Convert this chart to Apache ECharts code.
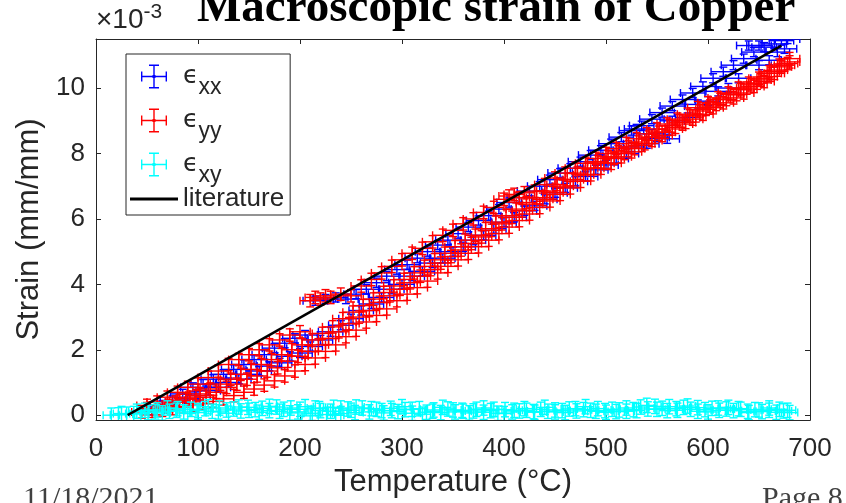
<!DOCTYPE html>
<html><head><meta charset="utf-8">
<script src="https://cdn.jsdelivr.net/npm/echarts@6/dist/echarts.min.js"></script>
<style>html,body{margin:0;padding:0;background:#fff}#c{width:846px;height:503px}</style>
</head><body><div id="c"></div>
<script>
// ---- data (strain in units of 1e-3 mm/mm, temperature in °C) ----
const xTicks = [0, 100, 200, 300, 400, 500, 600, 700];
const yTicks = [0, 2, 4, 6, 8, 10];
const titleText = 'Macroscopic strain of Copper';
const footerLeft = '11/18/2021';
const footerRight = 'Page 8';

// eps_xx (blue) [T, strain]
const pointsXX = [
 [55,0.15],[65,0.30],[75,0.45],[85,0.65],[95,0.85],[105,0.95],[115,1.10],[125,1.25],[135,1.40],[145,1.55],
 [155,1.70],[165,1.85],[175,2.05],[185,2.20],[195,2.35],[205,2.45],[215,3.50],[225,3.55],[235,3.60],[245,3.55],
 [255,3.70],[265,3.85],[275,4.05],[285,4.25],[295,4.45],[305,4.60],[315,4.80],[325,5.00],[335,5.20],[345,5.35],
 [355,5.55],[365,5.75],[375,5.95],[385,6.10],[395,6.30],[405,6.50],[415,6.65],[425,6.85],[435,7.00],[445,7.20],
 [455,7.40],[465,7.55],[475,7.75],[485,7.95],[495,8.10],[505,8.30],[515,8.50],[525,8.70],[535,8.85],[545,9.05],
 [555,9.25],[565,9.45],[575,9.65],[585,9.85],[595,10.05],[605,10.30],[615,10.50],[625,10.70],[635,10.90],[645,11.10],
 [655,11.25],[665,11.35],[672,11.45],[678,11.50],
 [80,0.40],[100,0.60],[120,0.85],[140,1.10],[160,1.35],[180,1.60],[200,1.90],[220,2.30],[240,2.75],[260,3.20],
 [280,3.60],[300,4.00],[320,4.40],[340,4.80],[360,5.15],[380,5.50],[400,5.90],[420,6.25],[440,6.60],[460,6.95],
 [480,7.30],[500,7.65],[520,8.00],[530,8.75],[540,8.30],[550,8.50],[560,8.45],[580,9.10],[600,9.60],[620,10.00],
 [640,11.30],[650,11.30],[660,10.85],[675,11.20],
 [90,0.50],[110,0.75],[130,1.00],[150,1.25],[170,1.50],[190,1.80],[210,2.10],[230,2.55],[250,2.95],[270,3.40],
 [290,3.85],[310,4.25],[330,4.65],[350,5.00],[370,5.35],[390,5.70],[410,6.05],[430,6.40],[450,6.80],[470,7.15],
 [490,7.50],[510,7.85],[525,8.20],[545,8.60],[565,9.00],[590,9.50],[610,9.90],[630,10.30],[650,10.70],[668,11.10]
];
// eps_yy (red)
const pointsYY = [
 [45,0.10],[55,0.12],[65,0.15],[75,0.20],[85,0.25],[95,0.30],[105,0.35],[115,0.42],[125,0.50],[135,0.60],
 [145,0.70],[155,0.80],[165,0.92],[175,1.05],[185,1.20],[195,1.35],[205,1.55],[215,1.75],[225,1.95],[235,2.15],
 [245,2.40],[255,2.60],[265,2.85],[275,3.05],[285,3.25],[295,3.50],[305,3.70],[315,3.90],[325,4.10],[335,4.35],
 [345,4.55],[355,4.75],[365,4.95],[375,5.15],[385,5.35],[395,5.55],[405,5.75],[415,5.95],[425,6.15],[435,6.35],
 [445,6.55],[455,6.75],[465,6.95],[475,7.15],[485,7.35],[495,7.55],[505,7.70],[515,7.90],[525,8.05],[535,8.25],
 [545,8.40],[555,8.55],[565,8.75],[575,8.90],[585,9.05],[595,9.20],[605,9.40],[615,9.55],[625,9.70],[635,9.85],
 [645,10.05],[655,10.20],[665,10.45],[675,10.70],
 [50,0.30],[60,0.40],[70,0.55],[80,0.70],[90,0.85],[100,0.95],[110,1.15],[120,1.35],[130,1.55],[140,1.70],
 [150,1.85],[160,2.00],[170,2.15],[180,2.30],[190,2.45],[200,2.55],[210,3.50],[215,3.60],[220,3.55],[225,3.65],
 [230,3.60],[240,3.70],[250,3.65],[260,3.95],[270,4.15],[280,4.35],[290,4.55],[300,4.75],[310,4.95],[320,5.10],
 [330,5.30],[340,5.50],[350,5.65],[360,5.85],[370,6.00],[380,6.20],[390,6.35],[400,6.60],[405,6.70],[410,6.75],
 [415,6.65],[420,6.80],[430,6.85],[440,7.05],[450,7.25],[460,7.40],[470,7.55],[480,7.70],[490,7.85],[500,8.00],
 [510,8.15],[520,8.30],[530,8.45],[540,8.60],[550,8.75],[560,8.90],[570,9.05],[580,9.20],[590,9.40],[600,9.55],
 [610,9.70],[620,9.85],[630,10.00],[640,10.15],[650,10.30],[660,10.50],[670,10.70],[680,10.90],
 [60,0.20],[72,0.30],[82,0.45],[92,0.55],[102,0.65],[112,0.80],[122,0.95],[132,1.10],[142,1.25],[152,1.40],
 [162,1.55],[172,1.70],[182,1.85],[192,2.00],[202,2.15],[212,2.30],[222,2.50],[232,2.70],[242,2.95],[252,3.15],
 [262,3.35],[272,3.55],[282,3.75],[292,3.95],[302,4.15],[312,4.35],[322,4.55],[332,4.75],[342,4.95],[352,5.15],
 [362,5.35],[372,5.50],[382,5.70],[392,5.90],[402,6.10],[412,6.30],[422,6.50],[432,6.65],[442,6.85],[452,7.05],
 [462,7.20],[472,7.40],[482,7.55],[492,7.75],[502,7.90],[512,8.05],[522,8.20],[532,8.35],[542,8.50],[552,8.65],
 [562,8.85],[572,9.00],[582,9.15],[592,9.30],[602,9.45],[612,9.65],[622,9.80],[632,9.95],[642,10.10],[652,10.25],
 [662,10.45],[672,10.65],[680,10.80],
 [50,0.20],[68,0.25],[78,0.40],[88,0.50],[98,0.60],[108,0.55],[118,0.70],[128,0.85],[138,0.95],[148,1.10],
 [158,1.20],[168,1.35],[178,1.45],[188,1.65],[198,1.80],[208,1.95],[218,2.15],[228,2.35],[238,2.55],[248,2.80],
 [258,3.00],[268,3.20],[278,3.45],[288,3.65],[298,3.85],[308,4.05],[318,4.25],[328,4.45],[338,4.65],[348,4.85],
 [358,5.05],[368,5.25],[378,5.45],[388,5.65],[398,5.85],[408,6.05],[418,6.25],[428,6.45],[438,6.60],[448,6.80],
 [458,7.00],[468,7.20],[478,7.35],[488,7.55],[498,7.70],[508,7.85],[518,8.00],[528,8.15],[538,8.30],[548,8.50],
 [558,8.65],[568,8.80],[578,8.95],[588,9.15],[598,9.35],[608,9.50],[618,9.65],[628,9.80],[638,10.00],[648,10.15],
 [658,10.35],[668,10.55],[678,10.75]
];
// eps_xy (cyan)
const pointsXY = [
 [15,0.00],[22,0.01],[30,0.03],[37,0.05],[44,0.04],[51,0.08],[58,0.10],[65,0.07],[72,0.12],[79,0.15],
 [86,0.10],[93,0.18],[100,0.14],[107,0.20],[114,0.12],[121,0.22],[128,0.16],[135,0.19],[142,0.13],[149,0.24],
 [156,0.17],[163,0.21],[170,0.14],[177,0.25],[184,0.18],[191,0.22],[198,0.10],[205,0.26],[212,0.06],[219,0.20],
 [226,0.02],[233,0.24],[240,0.05],[247,0.19],[254,0.08],[261,0.22],[268,0.10],[275,0.18],[282,0.07],[289,0.21],
 [296,0.11],[303,0.17],[310,0.06],[317,0.20],[324,0.09],[331,0.16],[338,0.08],[345,0.19],[352,0.10],[359,0.15],
 [366,0.07],[373,0.18],[380,0.09],[387,0.14],[394,0.06],[401,0.17],[408,0.10],[415,0.13],[422,0.15],[429,0.11],
 [436,0.18],[443,0.12],[450,0.16],[457,0.14],[464,0.19],[471,0.13],[478,0.17],[485,0.15],[492,0.20],[499,0.14],
 [506,0.18],[513,0.16],[520,0.22],[527,0.17],[534,0.25],[541,0.19],[548,0.27],[555,0.21],[562,0.26],[569,0.20],
 [576,0.24],[583,0.18],[590,0.23],[597,0.17],[604,0.21],[611,0.15],[618,0.19],[625,0.14],[632,0.18],[639,0.12],
 [646,0.17],[653,0.11],[660,0.15],[667,0.09],[674,0.13],[680,0.08],
 [40,0.12],[60,0.16],[80,0.20],[100,0.08],[120,0.10],[140,0.25],[160,0.09],[180,0.12],[200,0.18],[210,-0.02],
 [220,0.14],[230,0.12],[240,0.22],[250,0.15],[270,0.20],[290,0.14],[310,0.18],[330,0.12],[350,0.16],[370,0.13],
 [390,0.18],[410,0.15],[430,0.09],[450,0.10],[470,0.20],[490,0.12],[510,0.11],[530,0.14],[550,0.18],[570,0.15],
 [590,0.12],[610,0.22],[630,0.20],[650,0.16],[670,0.18],
 [25,0.05],[48,0.15],[70,0.22],[90,0.05],[110,0.26],[130,0.06],[150,0.15],[170,0.27],[190,0.07],[215,0.22],
 [235,0.00],[255,0.25],[280,0.14],[300,0.26],[320,0.03],[340,0.24],[360,0.12],[380,0.22],[400,0.05],[420,0.20],
 [440,0.24],[460,0.08],[480,0.26],[500,0.09],[520,0.12],[540,0.30],[560,0.14],[580,0.28],[600,0.10],[620,0.24],
 [640,0.08],[660,0.22],[678,0.15]
];
// literature line
const literature = [[31, 0], [672, 11.3]];

// error-bar half widths [temperature, strain]
const errXX = [12, 0.14];
const errYY = [10, 0.19];
const errXY = [8, 0.22];

// ---- chart ----
const TXT = '#262626';
const FONT = '"Liberation Sans", Arial, Helvetica, sans-serif';
const CAP = 4;

function errorBar(err) {
  return function (params, api) {
    const x = api.value(0), y = api.value(1);
    const c = api.coord([x, y]);
    const l = api.coord([x - err[0], y])[0];
    const r = api.coord([x + err[0], y])[0];
    const t = api.coord([x, y + err[1]])[1];
    const b = api.coord([x, y - err[1]])[1];
    const st = { stroke: api.visual('color'), lineWidth: 1.4, fill: null };
    const ln = (x1, y1, x2, y2) => ({ type: 'line', shape: { x1, y1, x2, y2 }, style: st });
    return {
      type: 'group',
      children: [
        ln(l, c[1], r, c[1]),
        ln(c[0], t, c[0], b),
        ln(l, c[1] - CAP, l, c[1] + CAP),
        ln(r, c[1] - CAP, r, c[1] + CAP),
        ln(c[0] - CAP, t, c[0] + CAP, t),
        ln(c[0] - CAP, b, c[0] + CAP, b)
      ]
    };
  };
}

const corners = 'M0 0h0.01v0.01h-0.01z M47.99 25.99h0.01v0.01h-0.01z ';
const ebIcon = 'path://' + corners +
  'M11 12.3h26v1.4h-26z M23.3 1h1.4v24h-1.4z M11 8h1.4v10h-1.4z M35.6 8h1.4v10h-1.4z ' +
  'M19 1h10v1.4h-10z M19 23.6h10v1.4h-10z M22.5 11.5h3v3h-3z';
const lineIcon = 'path://' + corners + 'M0 11.6h48v2.8h-48z';

const chart = echarts.init(document.getElementById('c'), null, { renderer: 'canvas' });

function errSeries(name, pts, err, color) {
  return {
    name, type: 'custom', clip: true,
    xAxisIndex: 0, yAxisIndex: 0,
    itemStyle: { color },
    encode: { x: 0, y: 1 },
    data: pts,
    renderItem: errorBar(err),
    animation: false
  };
}

const axisCommon = {
  axisLine: { show: true, onZero: false, lineStyle: { color: TXT, width: 1 } },
  splitLine: { show: false }
};

chart.setOption({
  animation: false,
  backgroundColor: '#fff',
  grid: { left: 96, right: 36, top: 39, bottom: 81, containLabel: false },
  xAxis: [
    Object.assign({
      type: 'value', min: 0, max: 700, interval: 100, position: 'bottom',
      axisTick: { inside: true, length: 5, lineStyle: { color: TXT } },
      axisLabel: { fontSize: 26, color: TXT, fontFamily: FONT, margin: 16, customValues: xTicks },
      name: 'Temperature (°C)', nameLocation: 'middle', nameGap: 46,
      nameTextStyle: { fontSize: 31, color: TXT, fontFamily: FONT }
    }, axisCommon),
    Object.assign({
      type: 'value', min: 0, max: 700, interval: 100, position: 'top',
      axisTick: { inside: true, length: 5, lineStyle: { color: TXT } },
      axisLabel: { show: false }
    }, axisCommon)
  ],
  yAxis: [
    Object.assign({
      type: 'value', min: -0.15, max: 11.5, position: 'left',
      axisTick: { inside: true, length: 5, lineStyle: { color: TXT }, customValues: yTicks },
      axisLabel: { fontSize: 26, color: TXT, fontFamily: FONT, margin: 11, customValues: yTicks },
      name: 'Strain (mm/mm)', nameLocation: 'middle', nameGap: 50, nameRotate: 90,
      nameTextStyle: { fontSize: 31, color: TXT, fontFamily: FONT }
    }, axisCommon),
    Object.assign({
      type: 'value', min: -0.15, max: 11.5, position: 'right',
      axisTick: { inside: true, length: 5, lineStyle: { color: TXT }, customValues: yTicks },
      axisLabel: { show: false, customValues: yTicks }
    }, axisCommon)
  ],
  legend: {
    orient: 'vertical', left: 126, top: 54,
    itemWidth: 48, itemHeight: 26, itemGap: -1, itemTextGap: 5,
    padding: [0, 6, 3, 4],
    backgroundColor: '#fff', borderColor: TXT, borderWidth: 1,
    selectedMode: false,
    data: [
      { name: 'ϵxx', icon: ebIcon, itemStyle: { color: '#0000ff' } },
      { name: 'ϵyy', icon: ebIcon, itemStyle: { color: '#ff0000' } },
      { name: 'ϵxy', icon: ebIcon, itemStyle: { color: '#00ffff' } },
      { name: 'literature', icon: lineIcon, itemStyle: { color: '#000000' } }
    ],
    formatter: function (name) {
      if (name === 'literature') return name;
      return '{e|ϵ}{s|' + name.slice(1) + '}';
    },
    textStyle: {
      fontSize: 26, color: TXT, fontFamily: FONT,
      rich: {
        e: { fontSize: 25, lineHeight: 26, verticalAlign: 'middle', color: TXT, fontFamily: '"DejaVu Sans", sans-serif' },
        s: { fontSize: 23, lineHeight: 22, padding: [22, 0, 0, 0], verticalAlign: 'middle', color: TXT, fontFamily: FONT }
      }
    }
  },
  graphic: [
    { type: 'text', left: 197, top: -15, z: 100,
      style: { text: titleText, font: 'bold 47px "Liberation Serif", "Times New Roman", serif', fill: '#000' } },
    { type: 'text', left: 96, top: 2, z: 100,
      style: {
        text: '{a|×10}{b|-3}', fill: TXT,
        rich: {
          a: { fontSize: 28, lineHeight: 32, verticalAlign: 'bottom', fontFamily: FONT, fill: TXT },
          b: { fontSize: 21, lineHeight: 30, verticalAlign: 'top', padding: [0, 0, 10, 0], fontFamily: FONT, fill: TXT }
        }
      } },
    { type: 'text', left: 23, top: 484, z: 100,
      style: { text: footerLeft, font: '30px "Liberation Serif", "Times New Roman", serif', fill: '#404040' } },
    { type: 'text', left: 762, top: 484, z: 100,
      style: { text: footerRight, font: '30px "Liberation Serif", "Times New Roman", serif', fill: '#404040' } }
  ],
  series: [
    errSeries('ϵxx', pointsXX, errXX, '#0000ff'),
    errSeries('ϵyy', pointsYY, errYY, '#ff0000'),
    errSeries('ϵxy', pointsXY, errXY, '#00ffff'),
    {
      name: 'literature', type: 'line', data: literature, symbol: 'none', clip: true,
      xAxisIndex: 0, yAxisIndex: 0,
      lineStyle: { color: '#000', width: 2.5 }, itemStyle: { color: '#000' },
      z: 5, animation: false
    }
  ]
});
</script>
</body></html>
